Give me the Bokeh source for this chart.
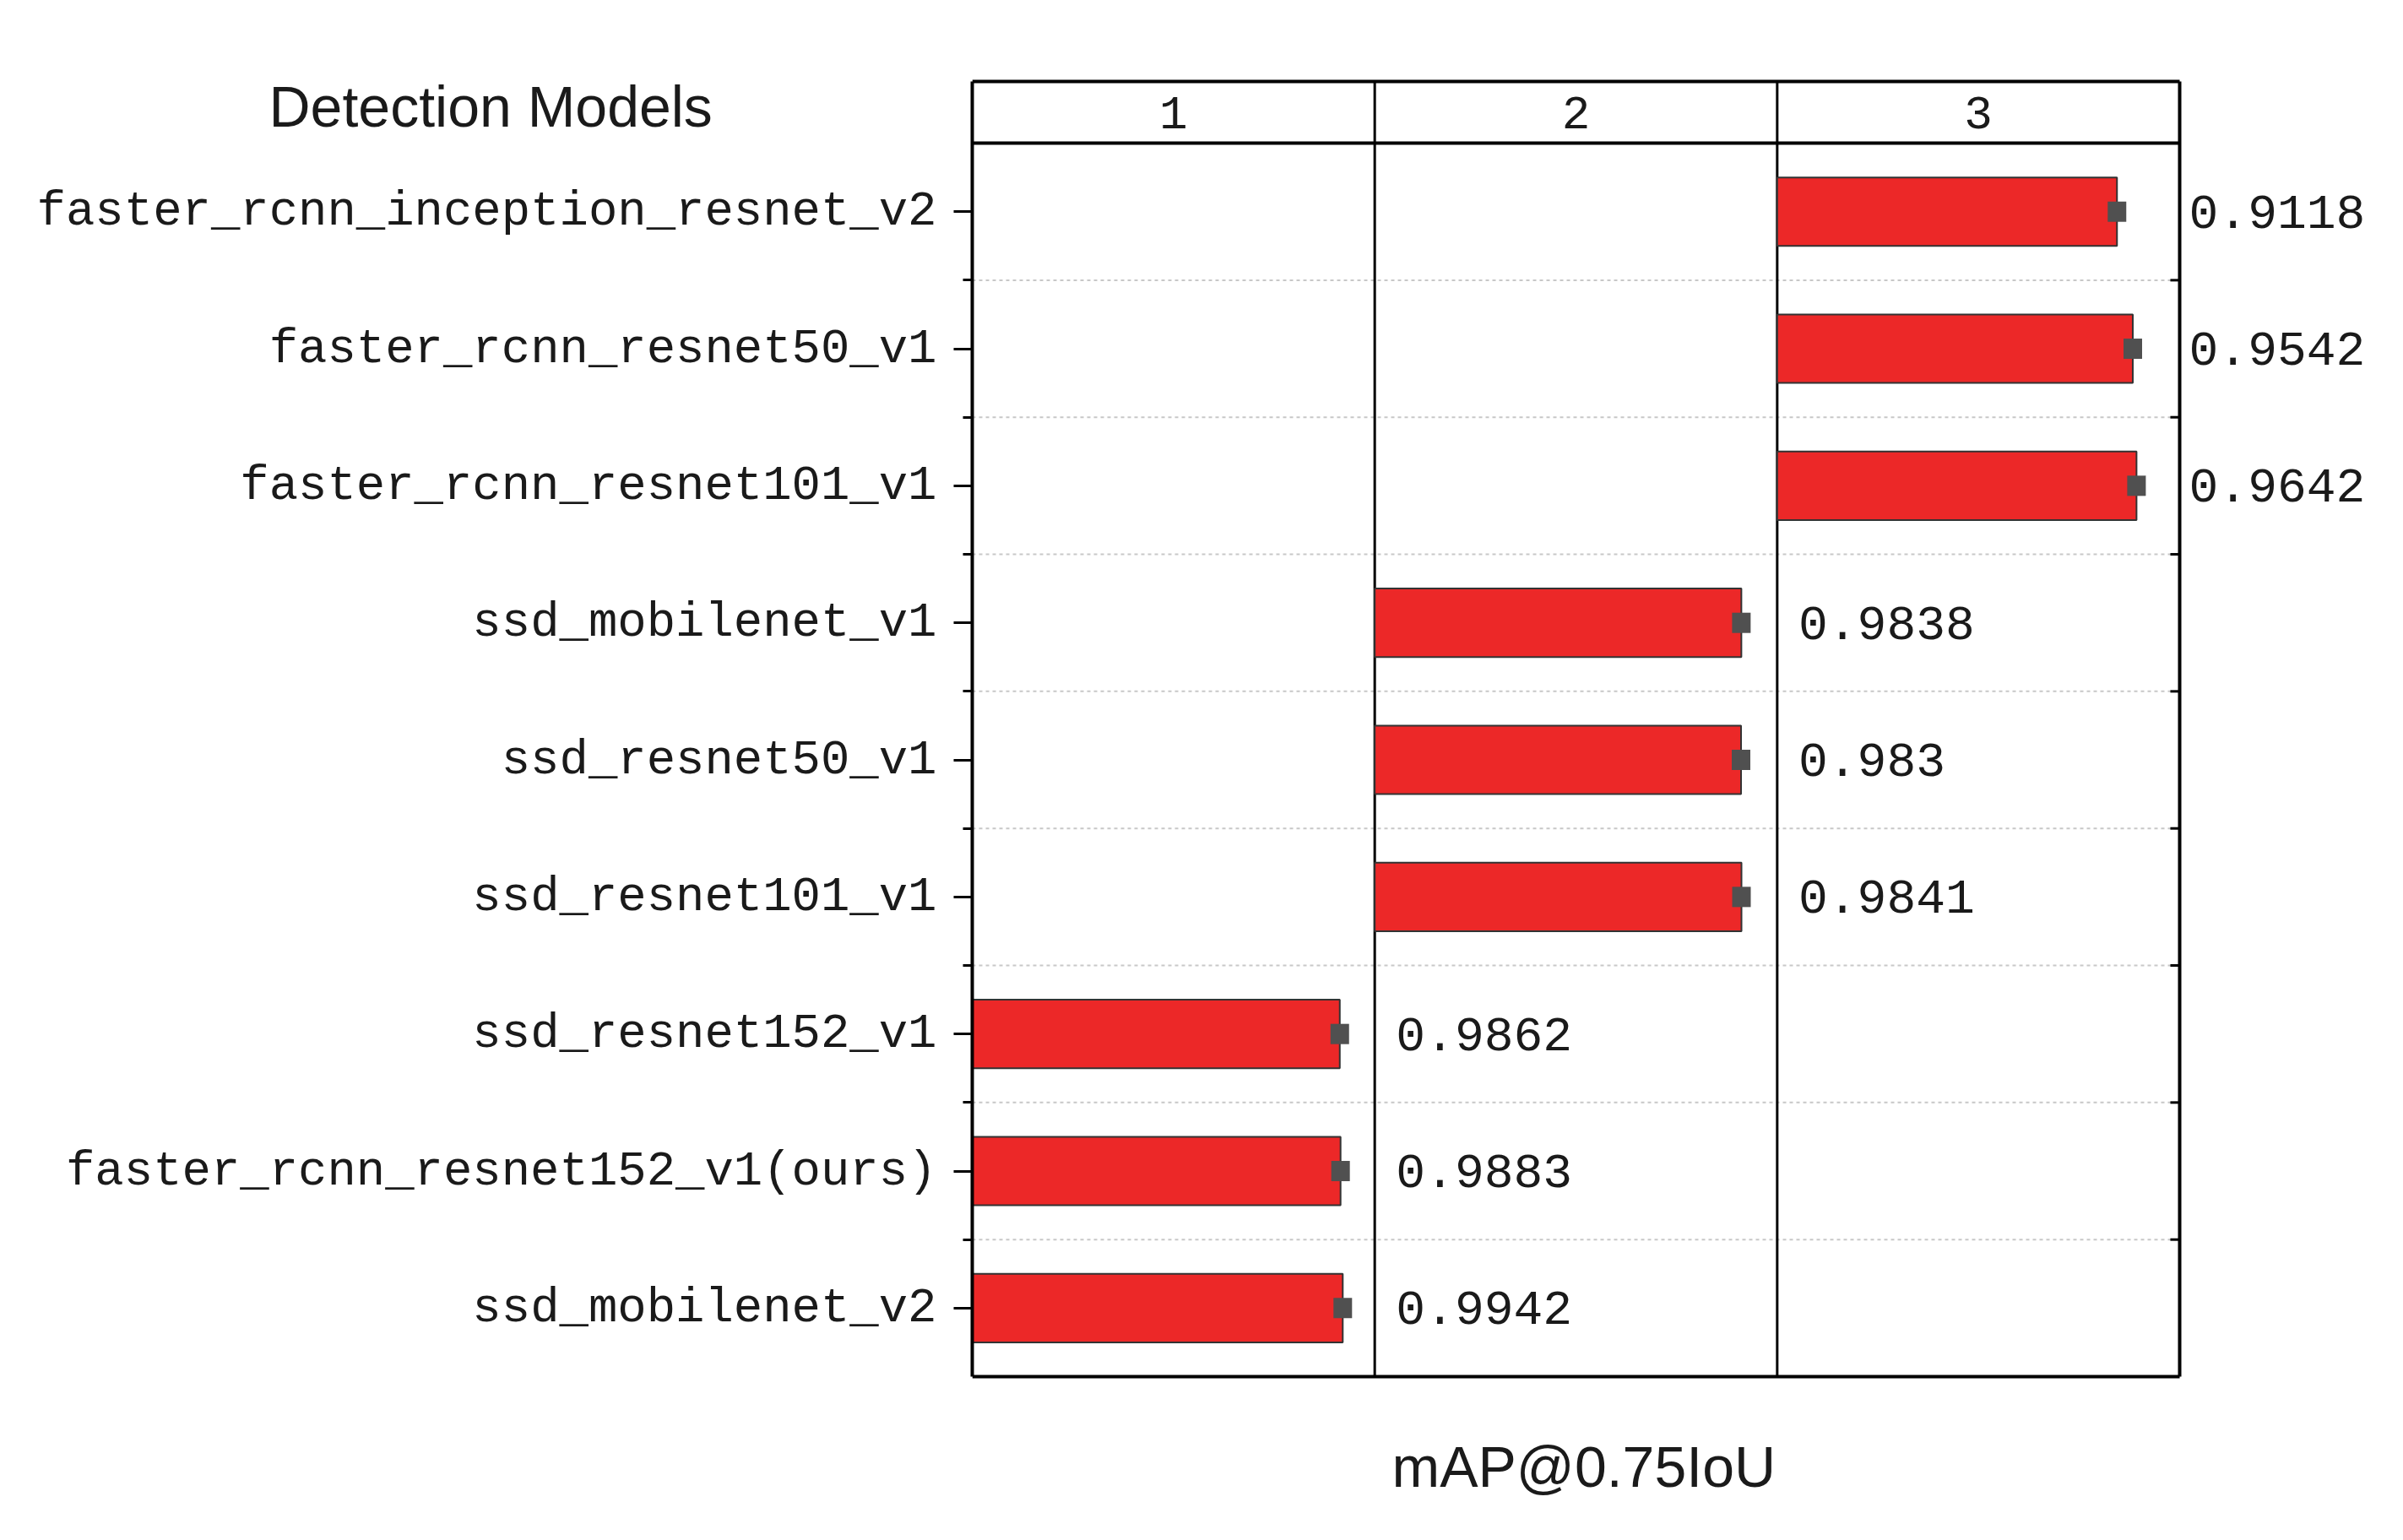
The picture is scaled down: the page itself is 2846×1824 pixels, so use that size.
from bokeh.plotting import figure
from bokeh.models import (ColumnDataSource, FixedTicker, Title, LabelSet, Range1d)
from bokeh.core.properties import value
from bokeh.embed import file_html
from bokeh.resources import INLINE

# ---------------- data ----------------
models = [
    "faster_rcnn_inception_resnet_v2",
    "faster_rcnn_resnet50_v1",
    "faster_rcnn_resnet101_v1",
    "ssd_mobilenet_v1",
    "ssd_resnet50_v1",
    "ssd_resnet101_v1",
    "ssd_resnet152_v1",
    "faster_rcnn_resnet152_v1(ours)",
    "ssd_mobilenet_v2",
]
map_values = [0.9118, 0.9542, 0.9642, 0.9838, 0.983, 0.9841, 0.9862, 0.9883, 0.9942]
groups = [3, 3, 3, 2, 2, 2, 1, 1, 1]
panel_names = ["1", "2", "3"]
x_title = "mAP@0.75IoU"
y_title = "Detection Models"

# ---------------- layout constants ----------------
PANEL_W = 1.08            # each panel spans 0 .. 1.08 in value units
HEADER = 0.45             # header strip height, in row units
ROW_PX = 162.33           # pixel height of one row
PANELS_PX = 1430          # pixel width of the three panels
FRAME_PX = 1685           # frame width (panels + room for outer labels)
PAD = 4 / ROW_PX          # small pad so the top border line is not clipped
EXTRA = 32 / ROW_PX       # blank space kept under the bottom border

n = len(models)
n_panels = len(panel_names)
total_w = PANEL_W * n_panels
top = n + HEADER
x_end = total_w * FRAME_PX / PANELS_PX
frame_h = round((top + PAD + EXTRA) * ROW_PX)

row_y = [n - 0.5 - i for i in range(n)]
starts = [(g - 1) * PANEL_W for g in groups]
ends = [s + v for s, v in zip(starts, map_values)]
label_x = [min(s + 1.137, total_w + 0.025) for s in starts]
labels = [f"{v:g}" for v in map_values]

src = ColumnDataSource(dict(y=row_y, left=starts, right=ends, lx=label_x, label=labels))

TEXT = "#1a1a1a"
SERIF = "Liberation Mono"
SANS = "Liberation Sans"

p = figure(frame_width=FRAME_PX, frame_height=frame_h,
           min_border_left=1151, min_border_right=4,
           min_border_top=92, min_border_bottom=100,
           x_range=Range1d(0, x_end), y_range=Range1d(-EXTRA, top + PAD),
           x_axis_location=None, y_axis_location="left",
           output_backend="svg", toolbar_location=None,
           background_fill_color="white", border_fill_color="white")

p.outline_line_color = None
p.xgrid.visible = False
p.ygrid.visible = False

# y axis (model names)
yax = p.yaxis[0]
yax.bounds = (0, top)
yax.ticker = FixedTicker(ticks=row_y, minor_ticks=list(range(1, n)))
yax.major_label_overrides = {y: m for y, m in zip(row_y, models)}
yax.major_label_text_font = SERIF
yax.major_label_text_font_size = "57.3px"
yax.major_label_text_color = TEXT
yax.major_label_standoff = 20
yax.major_tick_out = 22
yax.major_tick_in = 0
yax.major_tick_line_width = 3
yax.major_tick_line_color = "black"
yax.minor_tick_out = 11
yax.minor_tick_in = 0
yax.minor_tick_line_width = 3
yax.minor_tick_line_color = "black"
yax.axis_line_width = 4
yax.axis_line_color = "black"

# dotted row separators (grid) inside the panels only
bounds = list(range(1, n))
p.segment(x0=[0] * len(bounds), x1=[total_w] * len(bounds), y0=bounds, y1=bounds,
          line_color="#c8c8c8", line_dash="4 4", line_width=2)

# frame borders: top, header line, bottom, right side
p.segment(x0=[0, 0, 0, total_w], x1=[total_w, total_w, total_w, total_w],
          y0=[top, n, 0, 0], y1=[top, n, 0, top],
          line_color="black", line_width=4)
# panel dividers
div_x = [k * PANEL_W for k in range(1, n_panels)]
p.segment(x0=div_x, x1=div_x, y0=[0] * len(div_x), y1=[top] * len(div_x),
          line_color="black", line_width=3)
# short inward ticks on the right border at row separators
p.segment(x0=[total_w - 0.025] * len(bounds), x1=[total_w] * len(bounds),
          y0=bounds, y1=bounds, line_color="black", line_width=3)

# header strip labels
p.text(x=[(i + 0.5) * PANEL_W for i in range(n_panels)],
       y=[n + HEADER / 2] * n_panels, text=panel_names,
       text_align="center", text_baseline="middle",
       text_font=value(SERIF), text_font_size="56px", text_color=TEXT)

# bars
p.hbar(y="y", left="left", right="right", height=0.5, source=src,
       fill_color="#ec2828", line_color="#333333", line_width=2)
# error caps
p.rect(x="right", y="y", width=22, height=24, width_units="screen",
       height_units="screen", fill_color="#505050", line_color=None, source=src)

# value labels
p.add_layout(LabelSet(x="lx", y="y", text="label", source=src,
                      text_align="left", text_baseline="middle",
                      text_font=value(SERIF), text_font_size="58px",
                      text_color=TEXT))

# titles
p.add_layout(Title(text=y_title, align="left", offset=-833, standoff=-142,
                   text_font=SANS, text_font_size="68px",
                   text_font_style="normal", text_color=TEXT), "above")
p.add_layout(Title(text=x_title, align="left", offset=497, standoff=69,
                   text_font=SANS, text_font_size="68px",
                   text_font_style="normal", text_color=TEXT), "below")

open("out.html", "w").write(file_html(p, INLINE))
